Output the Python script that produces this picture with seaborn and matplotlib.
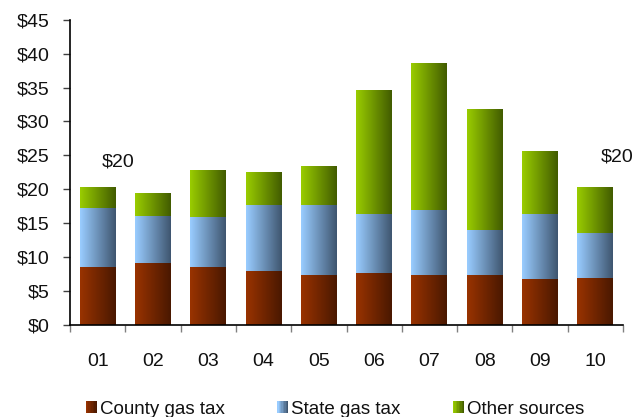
import numpy as np
import pandas as pd
import matplotlib
matplotlib.use('Agg')
import matplotlib.pyplot as plt
from matplotlib.colors import LinearSegmentedColormap
from matplotlib.legend_handler import HandlerBase
from matplotlib.patches import Rectangle
import seaborn as sns

# values ($ millions)
years = ['01', '02', '03', '04', '05', '06', '07', '08', '09', '10']
county = [8.6, 9.2, 8.6, 8.0, 7.4, 7.7, 7.4, 7.4, 6.8, 7.0]
state = [8.7, 6.9, 7.35, 9.7, 10.3, 8.7, 9.6, 6.6, 9.6, 6.6]
other = [3.1, 3.4, 6.95, 4.9, 5.8, 18.3, 21.6, 17.9, 9.3, 6.8]
labelled = {'01': '$20', '10': '$20'}

names = ['County gas tax', 'State gas tax', 'Other sources']
grads = [('#993300', '#4a1800'),
         ('#99ccff', '#3f5670'),
         ('#99cc00', '#425c00')]

df = pd.DataFrame({'year': years, 'county': county, 'state': state, 'other': other})
df['b_state'] = df['county']
df['b_other'] = df['county'] + df['state']
df['total'] = df['b_other'] + df['other']

sns.set_style('white')
plt.rcParams['font.family'] = ['Liberation Sans', 'DejaVu Sans']
fs = 14

fig = plt.figure(figsize=(6.37, 4.17), dpi=100)
ax = fig.add_axes([0.110, 0.220, 0.868, 0.733])

cols = [('county', None), ('state', 'b_state'), ('other', 'b_other')]
ramp = np.linspace(0, 1, 64).reshape(1, -1)
for (col, base), (c0, c1) in zip(cols, grads):
    kw = {} if base is None else {'bottom': df[base].values}
    n0 = len(ax.patches)
    sns.barplot(data=df, x='year', y=col, color=c0, saturation=1, width=0.65,
                errorbar=None, ax=ax, linewidth=0, **kw)
    cmap = LinearSegmentedColormap.from_list(col, [c0, c1])
    for p in ax.patches[n0:]:
        x0, y0 = p.get_x(), p.get_y()
        img = ax.imshow(ramp, cmap=cmap, aspect='auto', interpolation='bilinear',
                        extent=(x0, x0 + p.get_width(), y0, y0 + p.get_height()),
                        zorder=p.get_zorder() + 0.1)
        img.set_clip_path(p)

ax.set_xlim(-0.5, len(years) - 0.5)
ax.set_ylim(0, 45)
ax.set_yticks(range(0, 46, 5))
ax.set_yticklabels(['$%d' % v for v in range(0, 46, 5)])
ax.set_xlabel('')
ax.set_ylabel('')

ax.set_xticks(np.arange(-0.5, len(years), 1), minor=True)
ax.tick_params(axis='x', which='major', length=0, pad=20, labelsize=fs)
ax.tick_params(axis='x', which='minor', length=5, width=1, color='#808080', direction='out', bottom=True)
ax.tick_params(axis='y', length=5, width=1, color='#404040', direction='out', left=True, pad=10, labelsize=fs)
for lab in ax.get_xticklabels() + ax.get_yticklabels():
    lab.set_color('#111111')

sns.despine(ax=ax)
for s in ['left', 'bottom']:
    ax.spines[s].set_color('black')
    ax.spines[s].set_linewidth(1.2)

# total labels
offs = {'01': (20, 25), '10': (22, 30)}
for i, y in enumerate(years):
    if y in labelled:
        ax.annotate(labelled[y], (i, df['total'][i]), xytext=offs[y], textcoords='offset pixels',
                    ha='center', va='center', fontsize=fs, color='#111111')


class GradHandler(HandlerBase):
    def create_artists(self, legend, orig, xd, yd, w, h, fs, trans):
        c0, c1 = orig
        cm = LinearSegmentedColormap.from_list('h', [c0, c1])
        n = 8
        side = h * 1.0
        out = []
        for k in range(n):
            r = Rectangle((-xd + k * side / n, -yd + (h - side) / 2), side / n, side,
                          facecolor=cm(k / (n - 1)), edgecolor='none', transform=trans)
            out.append(r)
        return out


handles = [tuple(g) for g in grads]
fig.legend(handles, names, handler_map={tuple: GradHandler()}, loc='center',
           bbox_to_anchor=(335 / 637, 1 - 409 / 417), ncol=3, frameon=False,
           fontsize=13.5, handlelength=0.55, handleheight=0.55, handletextpad=0.2,
           columnspacing=2.8, labelcolor='#111111')

fig.savefig('out.png', dpi=100)
